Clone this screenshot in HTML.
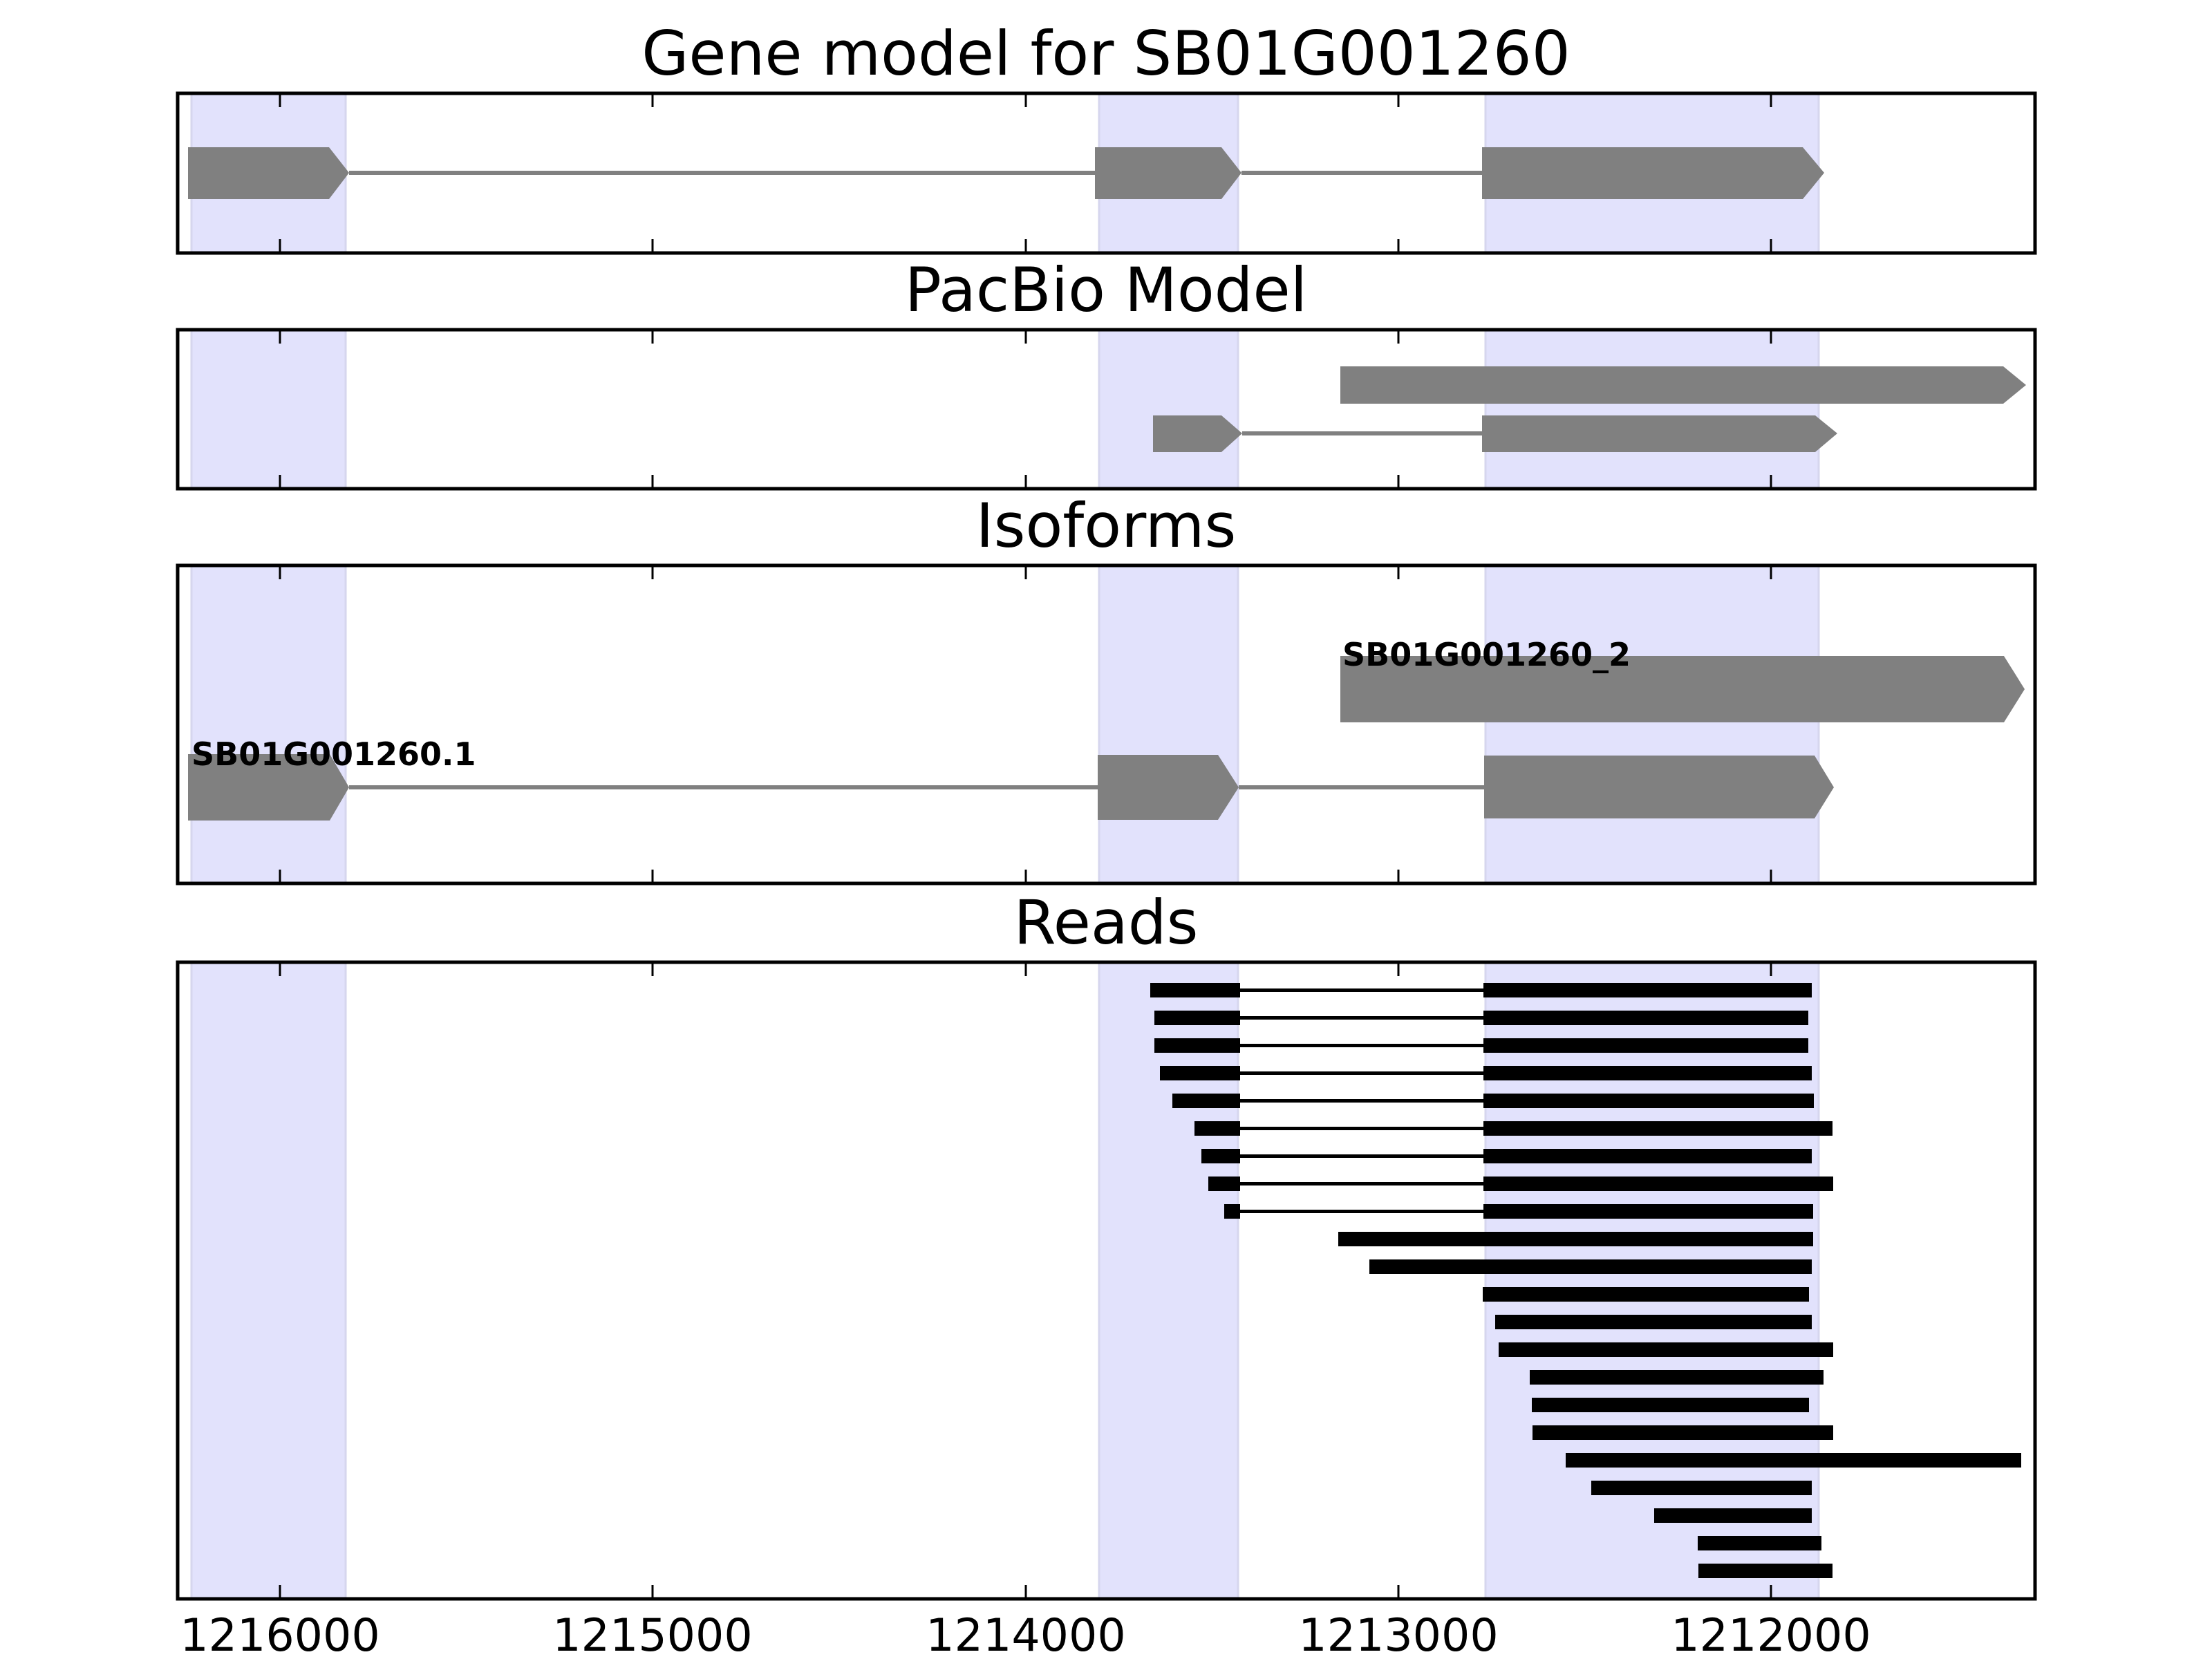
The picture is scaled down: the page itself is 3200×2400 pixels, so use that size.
<!DOCTYPE html>
<html><head><meta charset="utf-8"><style>html,body{margin:0;padding:0;background:#fff;width:3200px;height:2400px;overflow:hidden}svg{display:block}</style></head>
<body>
<svg xmlns="http://www.w3.org/2000/svg" width="3200" height="2400" viewBox="0 0 3200 2400">
<rect width="3200" height="2400" fill="#fff"/>
<clipPath id="c1"><rect x="257" y="135" width="2687" height="231"/></clipPath>
<clipPath id="c2"><rect x="257" y="477" width="2687" height="230"/></clipPath>
<clipPath id="c3"><rect x="257" y="818" width="2687" height="460"/></clipPath>
<clipPath id="c4"><rect x="257" y="1392" width="2687" height="921"/></clipPath>
<g fill="#e2e2fc" stroke="#d6d6ee" stroke-width="3">
<g clip-path="url(#c1)"><rect x="277" y="120" width="223" height="260"/><rect x="1590" y="120" width="201" height="260"/><rect x="2149" y="120" width="482" height="260"/></g>
<g clip-path="url(#c2)"><rect x="277" y="460" width="223" height="260"/><rect x="1590" y="460" width="201" height="260"/><rect x="2149" y="460" width="482" height="260"/></g>
<g clip-path="url(#c3)"><rect x="277" y="800" width="223" height="500"/><rect x="1590" y="800" width="201" height="500"/><rect x="2149" y="800" width="482" height="500"/></g>
<g clip-path="url(#c4)"><rect x="277" y="1380" width="223" height="950"/><rect x="1590" y="1380" width="201" height="950"/><rect x="2149" y="1380" width="482" height="950"/></g>
</g>

<g fill="#808080" stroke="none">
<rect x="505" y="247" width="1079" height="6"/>
<rect x="1796" y="247" width="348" height="6"/>
<polygon points="272,213 476,213 505,250 476,288 272,288"/>
<polygon points="1584,213 1767,213 1796,250 1767,288 1584,288"/>
<polygon points="2144,213 2608,213 2639,250 2608,288 2144,288"/>
<polygon points="1939,530 2898,530 2931,557 2898,584 1939,584"/>
<rect x="1797" y="624" width="347" height="6"/>
<polygon points="1668,601 1767,601 1797,627 1767,654 1668,654"/>
<polygon points="2144,601 2626,601 2658,627 2626,654 2144,654"/>
<polygon points="1939,949 2899,949 2929,997 2899,1045 1939,1045"/>
<rect x="505" y="1136" width="1083" height="6"/>
<rect x="1792" y="1136" width="355" height="6"/>
<polygon points="272,1091 477,1091 505,1139 477,1187 272,1187"/>
<polygon points="1588,1092 1762,1092 1792,1139 1762,1186 1588,1186"/>
<polygon points="2147,1093 2625,1093 2653,1139 2625,1184 2147,1184"/>
</g>
<g font-family="DejaVu Sans, Liberation Sans, sans-serif" font-weight="bold" font-size="46" fill="#000">
<text x="1942" y="963">SB01G001260_2</text>
<text x="277" y="1107">SB01G001260.1</text>
</g>

<g fill="#000">
<rect x="1794" y="1430" width="352" height="5"/><rect x="1664" y="1422" width="130" height="21"/><rect x="2146" y="1422" width="475" height="21"/>
<rect x="1794" y="1470" width="352" height="5"/><rect x="1670" y="1462" width="124" height="21"/><rect x="2146" y="1462" width="470" height="21"/>
<rect x="1794" y="1510" width="352" height="5"/><rect x="1670" y="1502" width="124" height="21"/><rect x="2146" y="1502" width="470" height="21"/>
<rect x="1794" y="1550" width="352" height="5"/><rect x="1678" y="1542" width="116" height="21"/><rect x="2146" y="1542" width="475" height="21"/>
<rect x="1794" y="1590" width="352" height="5"/><rect x="1696" y="1582" width="98" height="21"/><rect x="2146" y="1582" width="478" height="21"/>
<rect x="1794" y="1630" width="352" height="5"/><rect x="1728" y="1622" width="66" height="21"/><rect x="2146" y="1622" width="505" height="21"/>
<rect x="1794" y="1670" width="352" height="5"/><rect x="1738" y="1662" width="56" height="21"/><rect x="2146" y="1662" width="475" height="21"/>
<rect x="1794" y="1710" width="352" height="5"/><rect x="1748" y="1702" width="46" height="21"/><rect x="2146" y="1702" width="506" height="21"/>
<rect x="1794" y="1750" width="352" height="5"/><rect x="1771" y="1742" width="23" height="21"/><rect x="2146" y="1742" width="477" height="21"/>
<rect x="1936" y="1782" width="687" height="21"/>
<rect x="1981" y="1822" width="640" height="21"/>
<rect x="2145" y="1862" width="472" height="21"/>
<rect x="2163" y="1902" width="458" height="21"/>
<rect x="2168" y="1942" width="484" height="21"/>
<rect x="2213" y="1982" width="425" height="21"/>
<rect x="2216" y="2022" width="401" height="21"/>
<rect x="2217" y="2062" width="435" height="21"/>
<rect x="2265" y="2102" width="659" height="21"/>
<rect x="2302" y="2142" width="319" height="21"/>
<rect x="2393" y="2182" width="228" height="21"/>
<rect x="2456" y="2222" width="179" height="21"/>
<rect x="2457" y="2262" width="194" height="21"/>
</g>

<g fill="none" stroke="#000" stroke-width="5">
<rect x="257" y="135" width="2687" height="231"/>
<rect x="257" y="477" width="2687" height="230"/>
<rect x="257" y="818" width="2687" height="460"/>
<rect x="257" y="1392" width="2687" height="921"/>
</g>
<g stroke="#000" stroke-width="3">
<path d="M405,135v20M944,135v20M1484,135v20M2023,135v20M2562,135v20
M405,366v-20M944,366v-20M1484,366v-20M2023,366v-20M2562,366v-20
M405,477v20M944,477v20M1484,477v20M2023,477v20M2562,477v20
M405,707v-20M944,707v-20M1484,707v-20M2023,707v-20M2562,707v-20
M405,818v20M944,818v20M1484,818v20M2023,818v20M2562,818v20
M405,1278v-20M944,1278v-20M1484,1278v-20M2023,1278v-20M2562,1278v-20
M405,1392v20M944,1392v20M1484,1392v20M2023,1392v20M2562,1392v20
M405,2313v-20M944,2313v-20M1484,2313v-20M2023,2313v-20M2562,2313v-20"/>
</g>
<g font-family="DejaVu Sans, Liberation Sans, sans-serif" font-size="65" fill="#000" text-anchor="middle">
<text x="405" y="2388">1216000</text>
<text x="944" y="2388">1215000</text>
<text x="1484" y="2388">1214000</text>
<text x="2023" y="2388">1213000</text>
<text x="2562" y="2388">1212000</text>
</g>
<g font-family="DejaVu Sans, Liberation Sans, sans-serif" font-size="88" fill="#000" text-anchor="middle">
<text x="1600" y="108">Gene model for SB01G001260</text>
<text x="1600" y="450">PacBio Model</text>
<text x="1600" y="791">Isoforms</text>
<text x="1600" y="1365">Reads</text>
</g>
</svg>
</body></html>
